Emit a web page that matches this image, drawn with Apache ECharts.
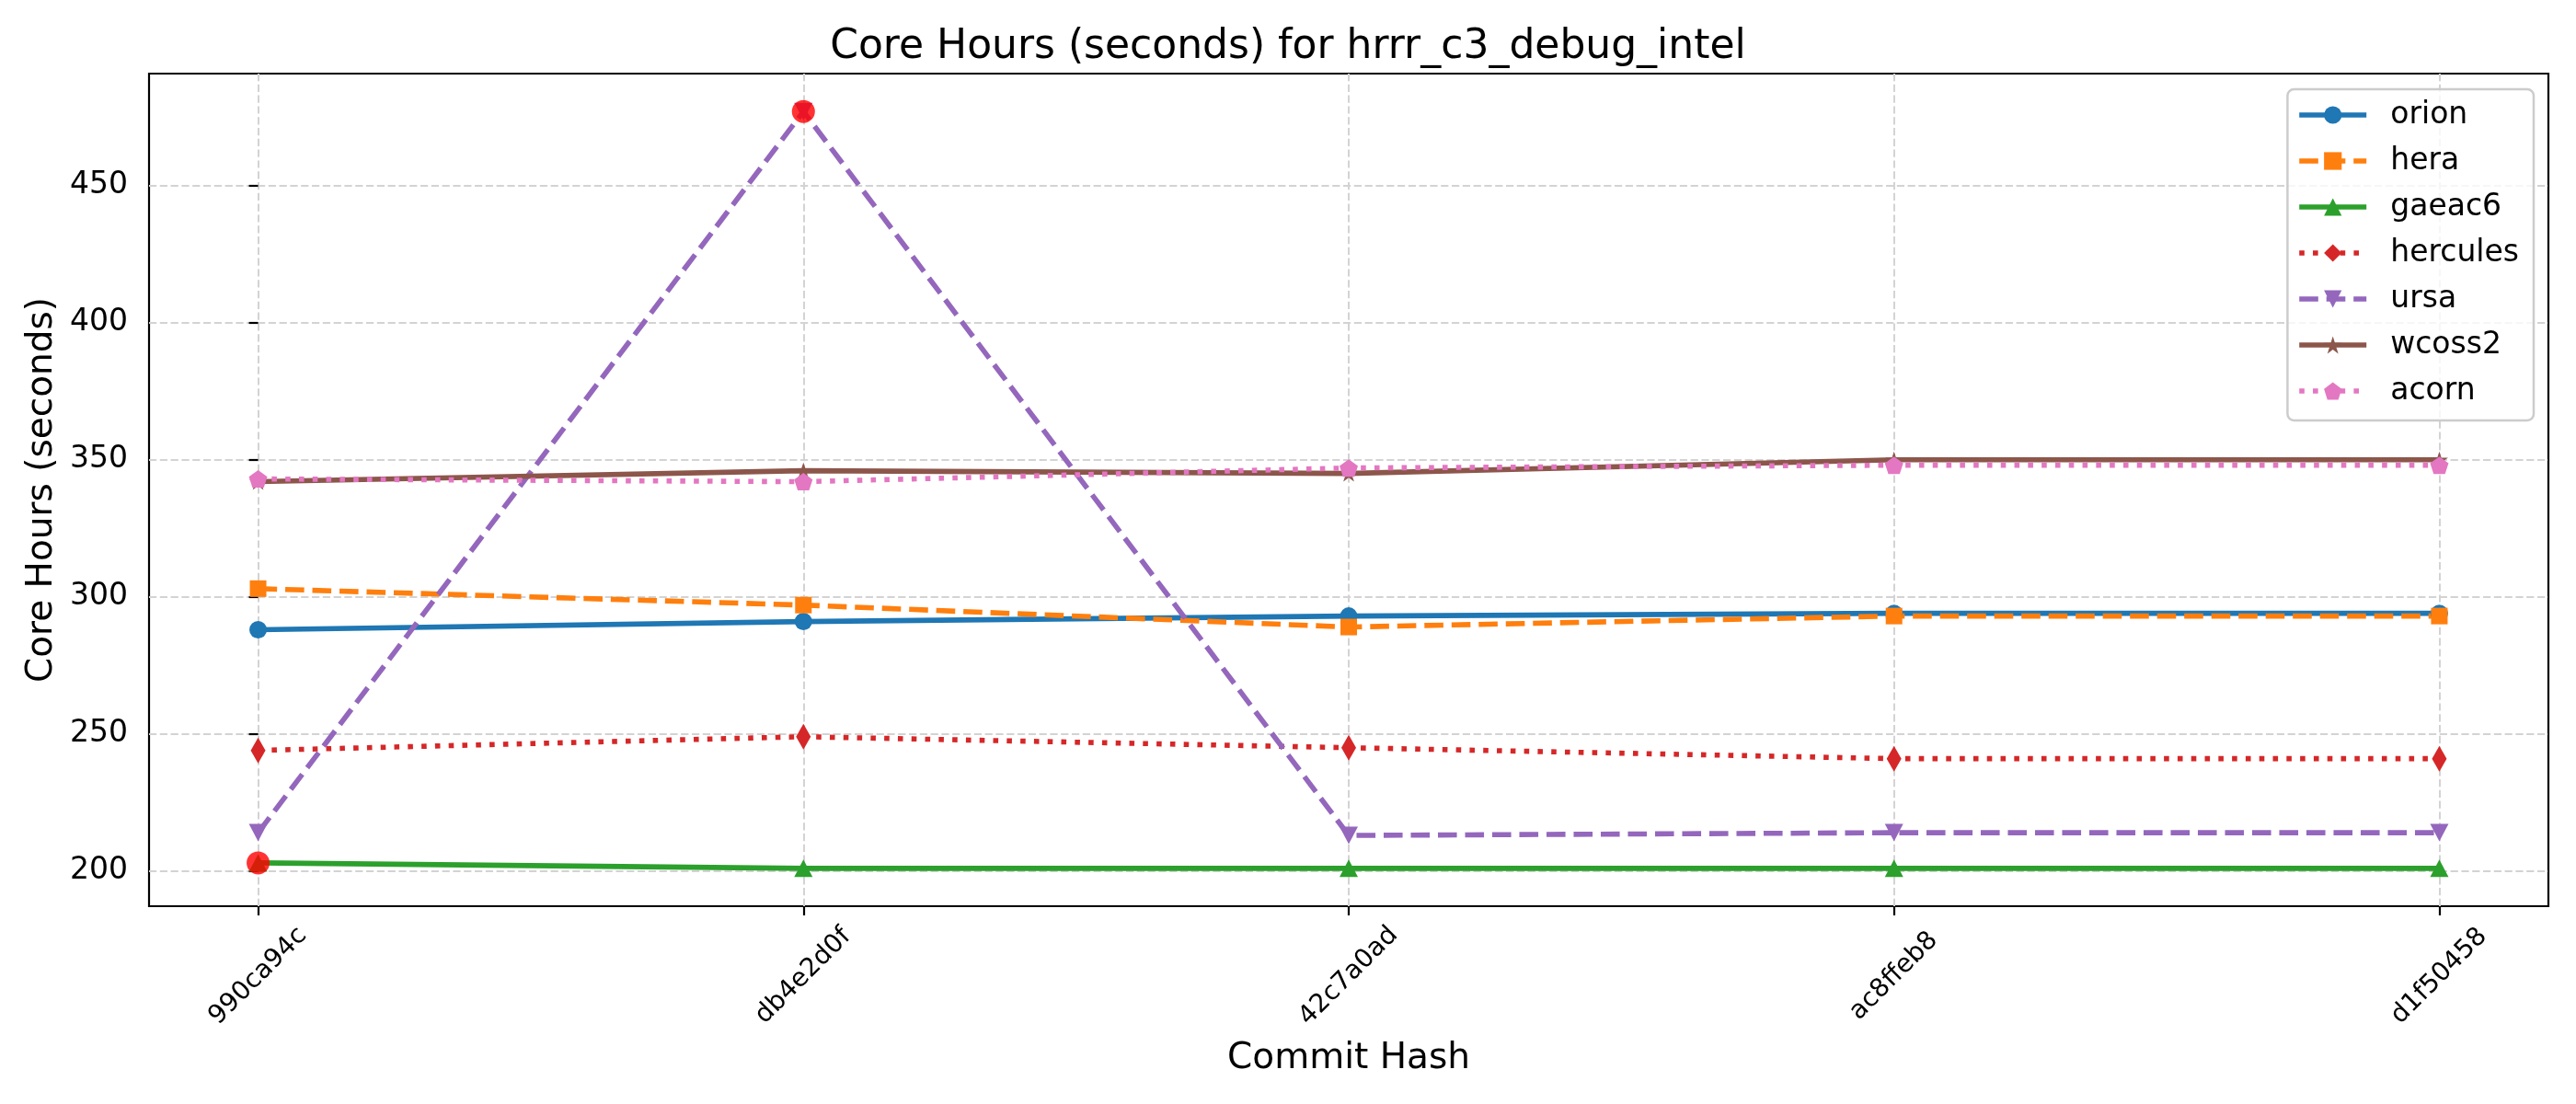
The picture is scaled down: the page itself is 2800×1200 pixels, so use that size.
<!DOCTYPE html>
<html>
<head>
<meta charset="utf-8">
<script src="https://cdn.jsdelivr.net/npm/echarts@6/dist/echarts.min.js"></script>
<style>
  html, body { margin: 0; padding: 0; background: #fff; }
  #chart { width: 2800px; height: 1200px; }
</style>
</head>
<body>
<div id="chart"></div>
<script>
// ---- data ----
const commits = ['990ca94c', 'db4e2d0f', '42c7a0ad', 'ac8ffeb8', 'd1f50458'];
const orion    = [288, 291, 293, 294, 294];
const hera     = [303, 297, 289, 293, 293];
const gaeac6   = [203, 201, 201, 201, 201];
const hercules = [244, 249, 245, 241, 241];
const ursa     = [214, 477, 213, 214, 214];
const wcoss2   = [342, 346, 345, 350, 350];
const acorn    = [343, 342, 347, 348, 348];
const yTicks = [200, 250, 300, 350, 400, 450];
// flagged points (red circles): [commit index, series name]
const flagged = [[0, 'gaeac6'], [1, 'ursa']];

const seriesValues = { orion, hera, gaeac6, hercules, ursa, wcoss2, acorn };
const seriesNames = ['orion', 'hera', 'gaeac6', 'hercules', 'ursa', 'wcoss2', 'acorn'];

const FONT = 'DejaVu Sans';
const LW = 5.6;
const DASHED = [20.6, 8.9];
const DOTTED = [5.6, 9.2];
const STAR = 'path://M0,-100L22.45,-30.9L95.11,-30.9L36.33,11.8L58.78,80.9L0,38.2L-58.78,80.9L-36.33,11.8L-95.11,-30.9L-22.45,-30.9Z';
const PENTA = 'path://M0,-100L95.11,-30.9L58.78,80.9L-58.78,80.9L-95.11,-30.9Z';

const styles = {
  orion:    { color: '#1f77b4', type: 'solid', symbol: 'circle',   size: 19 },
  hera:     { color: '#ff7f0e', type: DASHED,  symbol: 'rect',     size: 18 },
  gaeac6:   { color: '#2ca02c', type: 'solid', symbol: 'triangle', size: [20, 19] },
  hercules: { color: '#d62728', type: DOTTED,  symbol: 'diamond',  size: [16, 28] },
  ursa:     { color: '#9467bd', type: DASHED,  symbol: 'triangle', size: [20, 19], rotate: 180 },
  wcoss2:   { color: '#8c564b', type: 'solid', symbol: STAR,       size: [19, 18] },
  acorn:    { color: '#e377c2', type: DOTTED,  symbol: PENTA,      size: [20, 19] }
};

const lineSeries = seriesNames.map(name => {
  const s = styles[name];
  return {
    name: name,
    type: 'line',
    data: seriesValues[name].map((v, i) => [i, v]),
    symbol: s.symbol,
    symbolSize: s.size,
    symbolRotate: s.rotate || 0,
    showAllSymbol: true,
    lineStyle: { color: s.color, width: LW, type: s.type, cap: 'butt' },
    itemStyle: { color: s.color, borderWidth: 0 },
    emphasis: { disabled: true },
    animation: false
  };
});

const redSeries = {
  name: 'flagged',
  type: 'scatter',
  data: flagged.map(([i, n]) => [i, seriesValues[n][i]]),
  symbol: 'circle',
  symbolSize: 25,
  itemStyle: { color: '#ff0000' },
  z: 10,
  emphasis: { disabled: true },
  animation: false
};

const chart = echarts.init(document.getElementById('chart'), null, { renderer: 'canvas' });
chart.setOption({
  animation: false,
  backgroundColor: '#ffffff',
  title: {
    text: 'Core Hours (seconds) for hrrr_c3_debug_intel',
    left: 'center',
    top: 30,
    padding: [0, 0, 0, 132],
    textStyle: { fontFamily: FONT, fontSize: 44, fontWeight: 'normal', color: '#000' }
  },
  legend: {
    data: seriesNames,
    orient: 'vertical',
    right: 46,
    top: 97,
    align: 'left',
    itemWidth: 73,
    itemHeight: 24,
    itemGap: 10,
    padding: [8, 16, 12, 10],
    borderColor: '#cccccc',
    borderWidth: 2.5,
    borderRadius: 7,
    backgroundColor: 'rgba(255,255,255,0.8)',
    lineStyle: { width: LW },
    textStyle: { fontFamily: FONT, fontSize: 33, lineHeight: 40, color: '#000', padding: [0, 0, 0, 21] }
  },
  grid: {
    left: 162, right: 30, top: 80, bottom: 215,
    show: true, borderColor: '#000', borderWidth: 2.2, backgroundColor: '#fff',
    containLabel: false
  },
  xAxis: {
    type: 'value',
    min: -0.2,
    max: 4.2,
    name: 'Commit Hash',
    nameLocation: 'middle',
    nameGap: 146,
    nameTextStyle: { fontFamily: FONT, fontSize: 39, color: '#000', lineHeight: 39 },
    axisLine: { show: false },
    axisTick: { show: true, inside: false, length: 10, customValues: commits.map((c, i) => i), lineStyle: { color: '#000', width: 2.2 } },
    axisLabel: {
      customValues: commits.map((c, i) => i),
      formatter: v => commits[Math.round(v)] || '',
      rotate: 45, align: 'center', verticalAlign: 'middle', margin: 76,
      fontFamily: FONT, fontSize: 28, color: '#000'
    },
    splitLine: { show: true, lineStyle: { color: '#d3d3d3', width: 2, type: [8.2, 3.6] } }
  },
  yAxis: {
    type: 'value',
    min: 187.2,
    max: 490.8,
    name: 'Core Hours (seconds)',
    nameLocation: 'middle',
    nameGap: 90,
    nameTextStyle: { fontFamily: FONT, fontSize: 39, color: '#000', lineHeight: 39 },
    axisLine: { show: false },
    axisTick: { show: true, inside: false, length: 10, customValues: yTicks, lineStyle: { color: '#000', width: 2.2 } },
    axisLabel: { customValues: yTicks, margin: 23, fontFamily: FONT, fontSize: 33, color: '#000' },
    splitLine: { show: true, lineStyle: { color: '#d3d3d3', width: 2, type: [8.2, 3.6] } }
  },
  series: lineSeries.concat([redSeries])
});
</script>
</body>
</html>
